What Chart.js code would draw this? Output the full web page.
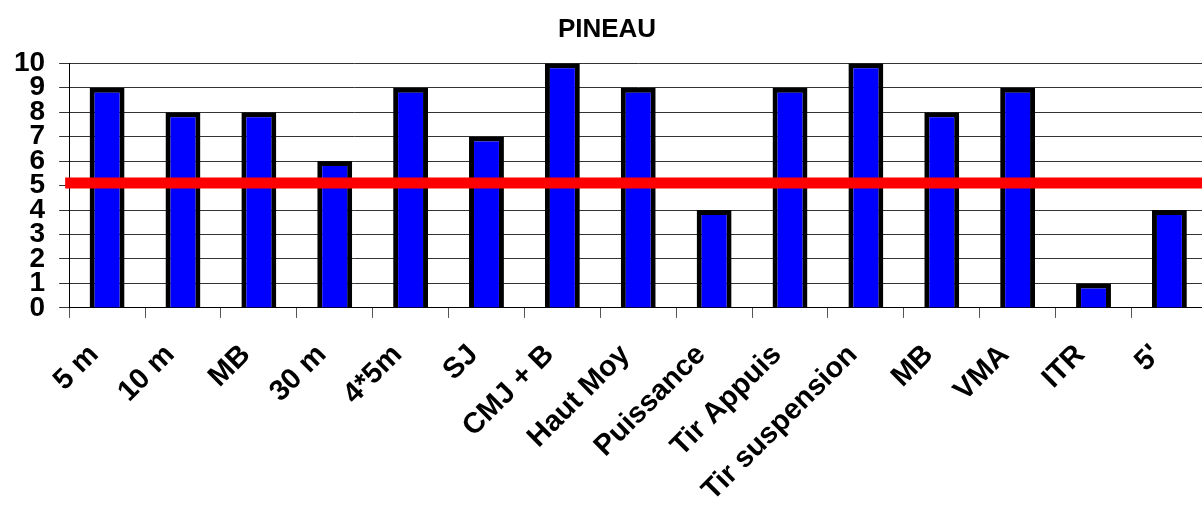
<!DOCTYPE html>
<html>
<head>
<meta charset="utf-8">
<script src="https://cdn.jsdelivr.net/npm/chart.js@4/dist/chart.umd.min.js"></script>
<style>
    html, body { margin: 0; padding: 0; background: #fff; overflow: hidden; }
    #wrap { position: relative; width: 1214px; height: 528px; }
</style>
</head>
<body>
<div id="wrap"><canvas id="chart"></canvas></div>
<script>
const labels = ['5 m', '10 m', 'MB', '30 m', '4*5m', 'SJ', 'CMJ + B', 'Haut Moy', 'Puissance', 'Tir Appuis', 'Tir suspension', 'MB', 'VMA', 'ITR', "5'"]
const notes = [9, 8, 8, 6, 9, 7, 10, 9, 4, 9, 10, 8, 9, 1, 4]
const seuil = 5.1 // ligne rouge
const yTicks = [0, 1, 2, 3, 4, 5, 6, 7, 8, 9, 10]

const FONT = 'Liberation Sans, Arial, sans-serif'

// trait rouge horizontal sur toute la largeur, placé avec l'échelle y
const seuilPlugin = {
    id: 'seuil',
    afterDatasetsDraw: chart => {
        const { ctx, chartArea, scales } = chart
        const y = scales.y.getPixelForValue(seuil)
        ctx.save()
        ctx.strokeStyle = '#ff0000'
        ctx.lineWidth = 11
        ctx.beginPath()
        ctx.moveTo(chartArea.left - 4, y)
        ctx.lineTo(chartArea.right, y)
        ctx.stroke()
        ctx.restore()
    }
}

window.onload = _ => {
    const ctx = document.getElementById('chart').getContext('2d')
    new Chart(ctx, {
        type: 'bar',
        data: {
            labels: labels,
            datasets: [{
                data: notes,
                backgroundColor: '#0000ff',
                borderColor: '#000000',
                borderWidth: 5,
                barPercentage: 0.46,
                categoryPercentage: 1
            }]
        },
        plugins: [seuilPlugin],
        options: {
            responsive: true,
            maintainAspectRatio: false,
            animation: false,
            layout: { padding: { left: 0, right: 0, top: 0, bottom: 0 } },
            plugins: {
                legend: { display: false },
                tooltip: { enabled: false },
                title: {
                    display: true,
                    text: 'PINEAU',
                    color: '#000',
                    font: { family: FONT, size: 26, weight: 'bold' },
                    padding: { top: 14, bottom: 18 }
                }
            },
            scales: {
                x: {
                    grid: { display: true, drawOnChartArea: false, drawTicks: true, tickLength: 10, color: '#555', offset: true },
                    border: { display: true, color: '#000', width: 1 },
                    ticks: {
                        color: '#000',
                        font: { family: FONT, size: 29, weight: 'bold' },
                        minRotation: 45,
                        maxRotation: 45,
                        autoSkip: false,
                        padding: 20,
                        labelOffset: -13
                    }
                },
                y: {
                    min: 0,
                    max: 10,
                    afterBuildTicks: axis => { axis.ticks = yTicks.map(v => ({ value: v })) },
                    grid: { color: '#333', lineWidth: 1, tickLength: 10 },
                    border: { display: true, color: '#000', width: 1 },
                    ticks: {
                        color: '#000',
                        font: { family: FONT, size: 28, weight: 'bold' },
                        autoSkip: false,
                        padding: 14
                    }
                }
            }
        }
    })
}
</script>
</body>
</html>
